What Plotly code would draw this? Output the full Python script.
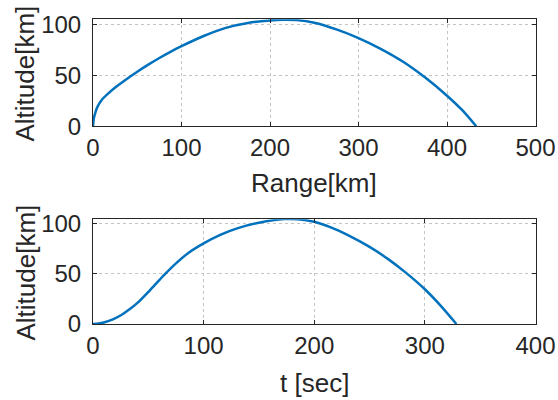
import plotly.graph_objects as go

# Top panel: altitude vs. range
range_km = [0, 1, 2.5, 5, 10, 17, 25, 37, 50, 62, 75, 87, 100, 125, 150, 175, 200, 215,
            230, 250, 275, 300, 325, 350, 375, 400, 417, 433]
alt_range = [0, 8, 13, 19, 26, 32, 38, 45.7, 53.5, 60.2, 67, 72.8, 78.5, 88.5, 96.5, 101.3, 103.8,
             104.4, 104.1, 101.5, 95, 86.5, 76, 63.5, 48, 30, 16, 0]

# Bottom panel: altitude vs. time
t_sec = [0, 5, 10.5, 18, 25.6, 33, 40.7, 52, 64.8, 75, 85.9, 100, 115, 131, 150, 173, 185,
         200, 215, 230, 250, 266.5, 283, 300, 315, 328.5]
alt_time = [0, 0.4, 1.7, 4.6, 8.9, 14.6, 21.5, 34.2, 49.2, 60.2, 70.3, 80, 88.5, 95.2, 100.6, 104.2,
            104, 101.5, 96, 88.6, 76.6, 64.7, 50.8, 34.5, 17.3, 0]

x1_ticks = [0, 100, 200, 300, 400, 500]
x2_ticks = [0, 100, 200, 300, 400]
y_ticks = [0, 50, 100]

W, H = 558, 400
LINE = "#0072BD"
AX = "#262626"
FONT = "Liberation Sans, Arial, sans-serif"

fig = go.Figure()
fig.add_trace(go.Scatter(x=range_km, y=alt_range, mode="lines",
                         line=dict(color=LINE, width=2.5, shape="spline", smoothing=0.8),
                         xaxis="x", yaxis="y", showlegend=False, cliponaxis=True))
fig.add_trace(go.Scatter(x=t_sec, y=alt_time, mode="lines",
                         line=dict(color=LINE, width=2.5, shape="spline", smoothing=0.8),
                         xaxis="x2", yaxis="y2", showlegend=False, cliponaxis=True))

xl, xr = 93 / W, 535.5 / W
common = dict(showline=True, linecolor=AX, linewidth=1, mirror="ticks", ticks="inside", ticklen=4,
              tickcolor=AX, showgrid=True, gridcolor="#c4c4c4", griddash="dot", gridwidth=1,
              zeroline=False, tickfont=dict(family=FONT, size=24, color=AX), automargin=False)

fig.update_layout(
    width=W, height=H, margin=dict(l=0, r=0, t=0, b=0),
    paper_bgcolor="white", plot_bgcolor="white",
    xaxis=dict(domain=[xl, xr], range=[0, 500], tickvals=x1_ticks, anchor="y", **common),
    yaxis=dict(domain=[1 - 126.3 / H, 1 - 19.3 / H], range=[0, 104.9], tickvals=y_ticks, anchor="x",
               ticklabelstandoff=6, **common),
    xaxis2=dict(domain=[xl, xr], range=[0, 400], tickvals=x2_ticks, anchor="y2", **common),
    yaxis2=dict(domain=[1 - 324 / H, 1 - 219.3 / H], range=[0, 104], tickvals=y_ticks, anchor="x2",
                ticklabelstandoff=6, **common),
)

tfont = dict(family=FONT, size=26, color=AX)
fig.add_annotation(text="Range[km]", x=(xl + xr) / 2, y=1 - 183 / H, xref="paper", yref="paper",
                   showarrow=False, xanchor="center", yanchor="middle", font=tfont)
fig.add_annotation(text="t [sec]", x=(xl + xr) / 2, y=1 - 383 / H, xref="paper", yref="paper",
                   showarrow=False, xanchor="center", yanchor="middle", font=tfont)
fig.add_annotation(text="Altitude[km]", x=25 / W, y=1 - 73.5 / H, xref="paper", yref="paper",
                   showarrow=False, xanchor="center", yanchor="middle", textangle=-90, font=tfont)
fig.add_annotation(text="Altitude[km]", x=25 / W, y=1 - 272.5 / H, xref="paper", yref="paper",
                   showarrow=False, xanchor="center", yanchor="middle", textangle=-90, font=tfont)

fig.write_html("out.html")
